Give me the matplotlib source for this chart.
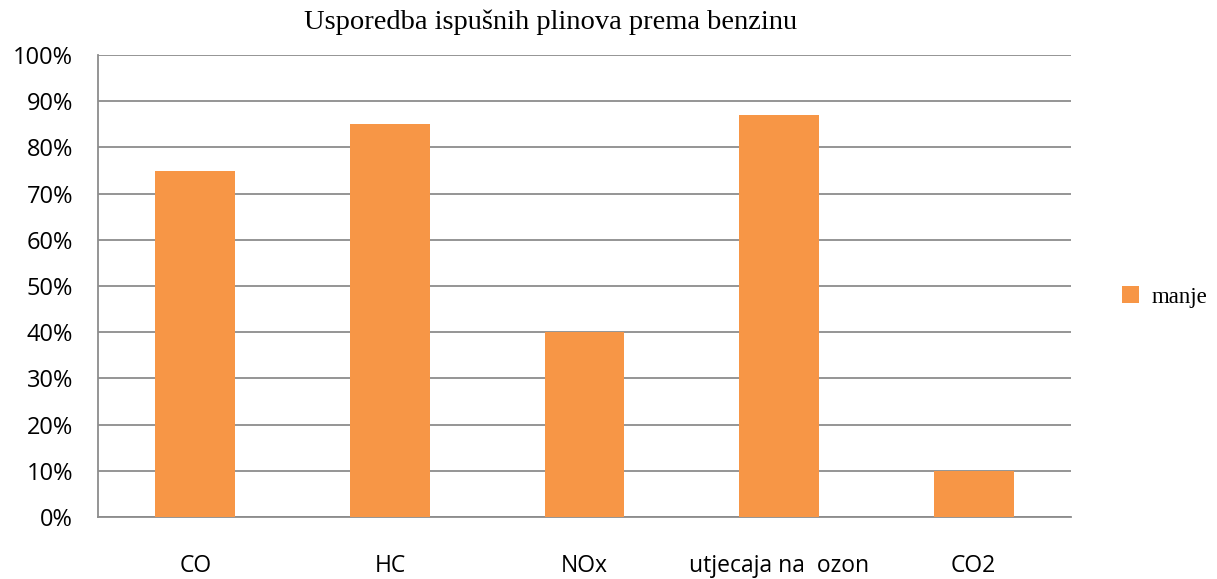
import matplotlib
matplotlib.use("Agg")
import matplotlib.pyplot as plt
from matplotlib.ticker import FuncFormatter

# data
categories = ["CO", "HC", "NOx", "utjecaja na  ozon", "CO2"]
manje = [0.75, 0.85, 0.40, 0.87, 0.10]
y_ticks = [i / 10 for i in range(11)]

orange = "#F79646"
grid_grey = "#8C8C8C"

fig = plt.figure(figsize=(12.17, 5.79), dpi=100)
ax = fig.add_axes([98 / 1217, 1 - 517 / 579, (1071 - 98) / 1217, (517 - 55) / 579])

x = range(len(categories))
ax.bar(x, manje, width=0.41, color=orange, label="manje", zorder=3)

ax.set_xlim(-0.5, len(categories) - 0.5)
ax.set_ylim(0, 1)
ax.set_yticks(y_ticks)
ax.yaxis.set_major_formatter(FuncFormatter(lambda v, p: f"{v * 100:.0f}%"))
ax.set_xticks(list(x))
ax.set_xticklabels(categories)

ax.grid(axis="y", color=grid_grey, linewidth=1.3, zorder=0)
for side in ["top", "right"]:
    ax.spines[side].set_visible(False)
for side in ["left", "bottom"]:
    ax.spines[side].set_color(grid_grey)
    ax.spines[side].set_linewidth(1.3)

ax.tick_params(axis="y", length=0, pad=18, labelsize=17)
ax.tick_params(axis="x", length=0, pad=27, labelsize=16.5)
for lbl in ax.get_xticklabels() + ax.get_yticklabels():
    lbl.set_fontfamily("Open Sans")

fig.text(551 / 1217, 1 - 22 / 579, "Usporedba ispušnih plinova prema benzinu",
         ha="center", va="center", fontsize=20.5, family="Liberation Serif")

leg = fig.legend(loc="center left", bbox_to_anchor=(1122 / 1217, 1 - 297 / 579),
                 frameon=False, borderpad=0, borderaxespad=0,
                 handlelength=0.75, handleheight=0.75,
                 handletextpad=0.55, prop={"family": "Liberation Serif", "size": 16.5})

fig.savefig("out.png", dpi=100)
